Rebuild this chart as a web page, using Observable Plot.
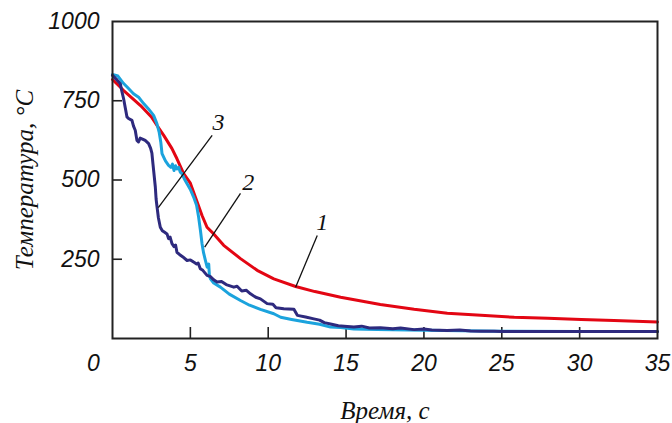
<!DOCTYPE html>
<html><head><meta charset="utf-8">
<script src="https://cdn.jsdelivr.net/npm/d3@7"></script>
<script src="https://cdn.jsdelivr.net/npm/@observablehq/plot@0.6"></script>
<style>
html,body{margin:0;padding:0;background:#fff;}
#chart svg{font-family:"Liberation Sans",Arial,sans-serif;}
</style></head><body><div id="chart"></div>
<script>
// Curve 1 (red): [time s, temperature °C]
const curve1 = [[0,817],[0.7,783],[1.8,735],[2.5,699],[2.86,672],[3.3,640],[3.82,599],[4.14,567],[4.57,520],[5,490],[5.32,446],[5.75,388],[6.07,351],[6.5,330],[7.14,294],[8.22,252],[9.29,215],[10.36,188],[11.76,164],[13,148],[14.65,130],[17.2,107],[19.37,92],[21.5,80],[23.66,73],[25.8,67],[27.95,64],[30.1,60],[32.2,57],[35,52]];
// Curve 2 (light blue)
const curve2 = [[0,833],[0.35,828],[0.7,805],[1.0,790],[1.35,772],[1.7,760],[2,741],[2.3,725],[2.64,704],[2.85,678],[3.0,650],[3.1,620],[3.18,583],[3.4,560],[3.6,546],[3.75,540],[3.85,550],[3.95,530],[4.05,545],[4.14,535],[4.25,540],[4.35,525],[4.46,520],[4.6,505],[4.79,488],[5.0,470],[5.21,446],[5.4,420],[5.53,383],[5.65,340],[5.75,299],[5.85,270],[5.97,246],[6.08,225],[6.18,235],[6.22,200],[6.29,188],[6.5,175],[6.93,162],[7.5,140],[8.22,120],[8.8,105],[9.5,92],[10.36,78],[10.8,67],[11.5,60],[12.5,51],[13.3,45],[14,36],[14.65,35],[15.5,30],[17,28],[20,26],[25,23],[30,22],[35,22]];
// Curve 3 (dark blue)
const curve3 = [[0,830],[0.3,815],[0.5,804],[0.6,780],[0.71,757],[0.85,720],[0.93,699],[1.03,694],[1.25,688],[1.35,670],[1.46,657],[1.57,625],[1.67,620],[1.78,632],[1.89,630],[2.1,625],[2.32,615],[2.45,600],[2.53,585],[2.6,550],[2.75,478],[2.8,440],[2.86,415],[2.95,380],[3.07,351],[3.2,340],[3.35,335],[3.5,330],[3.6,315],[3.7,320],[3.82,299],[3.95,290],[4.05,295],[4.14,272],[4.3,265],[4.5,258],[4.79,246],[5.0,248],[5.21,241],[5.4,235],[5.5,238],[5.64,220],[5.8,215],[6.07,199],[6.3,195],[6.5,185],[6.71,178],[7,180],[7.3,170],[7.79,162],[8.0,165],[8.3,150],[8.6,152],[8.86,141],[9.2,130],[9.5,125],[9.93,110],[10.3,108],[10.5,97],[11,94],[11.65,92],[11.87,73],[12.4,68],[12.93,62],[13.3,58],[13.6,50],[14,46],[14.5,40],[15.08,38],[15.5,36],[16,39],[16.5,33],[17.2,34],[18,31],[18.5,33],[19.37,28],[20,30],[20.5,27],[21.5,25],[22.3,27],[23,24],[23.66,23],[24.5,23],[25,22],[35,22]];

const xTickLabels = [5,10,15,20,25,30,35];
const xTickMarks = [5,10,15,20,25,30];
const yTickLabels = [250,500,750,1000];
const yTickMarks = [250,500,750];
const originLabel = [0];
const xTitle = ["Время, с"];
const yTitle = ["Температура, °C"];

// Curve number annotations and leader lines
const annNames = ["1","2","3"];
const annX = [13.47, 8.71, 6.8];
const annY = [367, 493, 682];
const leadX1 = [13.15, 8.22, 6.40];
const leadY1 = [325, 458, 641];
const leadX2 = [11.76, 5.92, 2.94];
const leadY2 = [162, 288, 413];
const ann = annNames.map((n,i)=>({n, x:annX[i], y:annY[i], x1:leadX1[i], y1:leadY1[i], x2:leadX2[i], y2:leadY2[i]}));

const red = "#e30613", lightBlue = "#1ba3dd", darkBlue = "#2e2a7e";
const sans = "'Liberation Sans', Arial, sans-serif";
const serif = "'Liberation Serif', 'Times New Roman', serif";
const tickText = {fontFamily: sans, fontSize: 23, fontStyle: "italic", fill: "#111", lineAnchor: "middle", text: d => String(d)};

const chart = Plot.plot({
  width: 672, height: 423,
  marginLeft: 112, marginRight: 15, marginTop: 21, marginBottom: 85,
  x: {domain: [0, 35], axis: null},
  y: {domain: [0, 1000], axis: null},
  marks: [
    Plot.text(xTickLabels, {...tickText, x: d => d, frameAnchor: "bottom", dy: 25}),
    Plot.text(originLabel, {...tickText, x: d => d, frameAnchor: "bottom", dx: -19, dy: 25}),
    Plot.text(yTickLabels, {...tickText, y: d => d, frameAnchor: "left", dx: -13, textAnchor: "end"}),
    Plot.tickX(xTickMarks, {x: d => d, insetTop: 306, stroke: "#222", strokeWidth: 1.6}),
    Plot.tickY(yTickMarks, {y: d => d, insetRight: 535, stroke: "#222", strokeWidth: 1.6}),
    Plot.line(curve1, {x: d => d[0], y: d => d[1], stroke: red, strokeWidth: 3}),
    Plot.line(curve2, {x: d => d[0], y: d => d[1], stroke: lightBlue, strokeWidth: 3}),
    Plot.line(curve3, {x: d => d[0], y: d => d[1], stroke: darkBlue, strokeWidth: 3}),
    Plot.link(ann, {x1: "x1", y1: "y1", x2: "x2", y2: "y2", stroke: "#111", strokeWidth: 1.3}),
    Plot.text(ann, {x: "x", y: "y", text: "n", fontFamily: serif, fontStyle: "italic", fontSize: 24, fill: "#111", lineAnchor: "middle"}),
    Plot.frame({stroke: "#222", strokeWidth: 2}),
    Plot.text(xTitle, {frameAnchor: "bottom", dy: 72, text: d => d, fontFamily: serif, fontStyle: "italic", fontSize: 25, fill: "#111", lineAnchor: "middle", textAnchor: "middle"}),
    Plot.text(yTitle, {frameAnchor: "left", dx: -88, rotate: -90, text: d => d, fontFamily: serif, fontStyle: "italic", fontSize: 25, fill: "#111", lineAnchor: "middle", textAnchor: "middle"})
  ]
});
document.getElementById("chart").appendChild(chart);
</script></body></html>
